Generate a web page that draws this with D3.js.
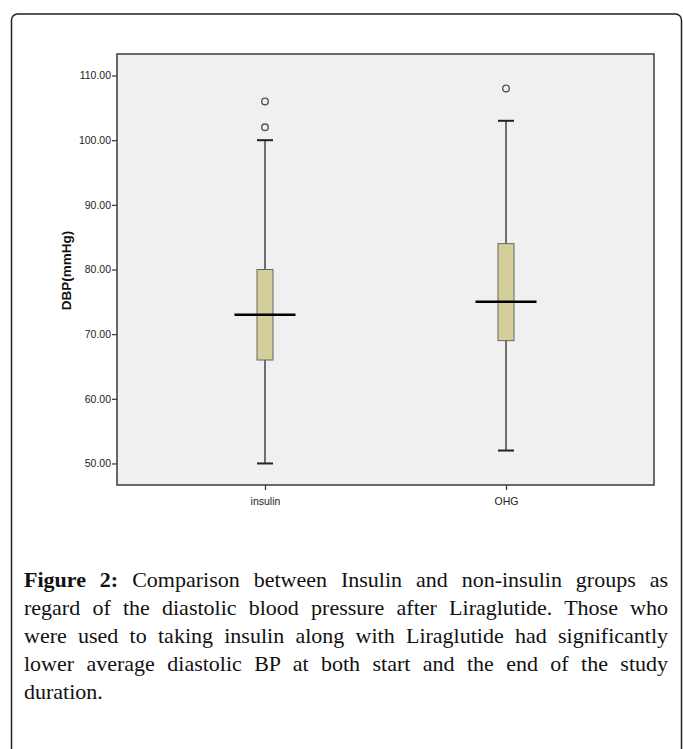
<!DOCTYPE html>
<html>
<head>
<meta charset="utf-8">
<script src="https://cdn.jsdelivr.net/npm/d3@7"></script>
<style>
  html, body { margin: 0; padding: 0; background: #fff; }
  body { width: 683px; height: 749px; position: relative; overflow: hidden; }
  #chart { position: absolute; left: 0; top: 0; }
  #caption { position: absolute; left: 24px; top: 566px; width: 644px;
    font-family: "Liberation Serif", "Times New Roman", serif; font-size: 22px; line-height: 28px; color: #111; }
  #caption .ln { text-align: justify; text-align-last: justify; white-space: nowrap; height: 28px; }
  #caption .ln.last { text-align-last: left; }
</style>
</head>
<body>
<svg id="chart" width="683" height="749"></svg>
<div id="caption"></div>
<script>
// ---- data ----
const categories = ["insulin", "OHG"];
const q1 = [66, 69];
const medians = [73, 75];
const q3 = [80, 84];
const whiskerLow = [50, 52];
const whiskerHigh = [100, 103];
const outliers = [[102, 106], [108]];
const yTicks = [50, 60, 70, 80, 90, 100, 110];
const yLabel = "DBP(mmHg)";
const captionBold = "Figure 2:";
const captionLines = [
  " Comparison between Insulin and non-insulin groups as",
  "regard of the diastolic blood pressure after Liraglutide. Those who",
  "were used to taking insulin along with Liraglutide had significantly",
  "lower average diastolic BP at both start and the end of the study",
  "duration."
];

// ---- layout ----
const svg = d3.select("#chart");
const plot = { left: 117, right: 654, top: 54, bottom: 485 };

// outer frame
svg.append("rect")
  .attr("x", 11.5).attr("y", 14).attr("width", 670).attr("height", 760)
  .attr("rx", 6).attr("ry", 6)
  .attr("fill", "none").attr("stroke", "#222").attr("stroke-width", 1.5);

const y = d3.scaleLinear().domain([46.67, 113.33]).range([plot.bottom, plot.top]);
const x = d3.scalePoint().domain(categories).range([plot.left, plot.right]).padding(0.614);

// plot background
svg.append("rect")
  .attr("x", plot.left).attr("y", plot.top)
  .attr("width", plot.right - plot.left).attr("height", plot.bottom - plot.top)
  .attr("fill", "#f0f0f0").attr("stroke", "#3a3a3a").attr("stroke-width", 1.5);

// y axis
const yAxis = svg.append("g").attr("transform", `translate(${plot.left},0)`)
  .call(d3.axisLeft(y).tickValues(yTicks).tickFormat(d3.format(".2f")).tickSize(5).tickPadding(1));
yAxis.select(".domain").remove();
yAxis.selectAll(".tick line").attr("stroke", "#333").attr("stroke-width", 1.2);
yAxis.selectAll(".tick text").attr("font-family", "Liberation Sans, Arial, sans-serif")
  .attr("font-size", 10.5).attr("fill", "#222");

// x axis
const xAxis = svg.append("g").attr("transform", `translate(0,${plot.bottom})`)
  .call(d3.axisBottom(x).tickSize(5).tickPadding(8));
xAxis.select(".domain").remove();
xAxis.selectAll(".tick line").attr("stroke", "#333").attr("stroke-width", 1.2);
xAxis.selectAll(".tick text").attr("font-family", "Liberation Sans, Arial, sans-serif")
  .attr("font-size", 10.5).attr("fill", "#222");

// y label
svg.append("text")
  .attr("transform", `translate(70.5,${(plot.top + plot.bottom) / 2 + 1}) rotate(-90)`)
  .attr("text-anchor", "middle")
  .attr("font-family", "Liberation Sans, Arial, sans-serif")
  .attr("font-weight", "bold").attr("font-size", 13.5).attr("fill", "#111")
  .text(yLabel);

// boxes
const boxW = 16, medW = 61, capW = 16;
const g = svg.append("g");
categories.forEach((c, i) => {
  const cx = x(c);
  g.append("line").attr("x1", cx).attr("x2", cx).attr("y1", y(q3[i])).attr("y2", y(whiskerHigh[i]))
    .attr("stroke", "#444").attr("stroke-width", 1.5);
  g.append("line").attr("x1", cx).attr("x2", cx).attr("y1", y(q1[i])).attr("y2", y(whiskerLow[i]))
    .attr("stroke", "#444").attr("stroke-width", 1.5);
  [whiskerHigh[i], whiskerLow[i]].forEach(v => {
    g.append("line").attr("x1", cx - capW / 2).attr("x2", cx + capW / 2).attr("y1", y(v)).attr("y2", y(v))
      .attr("stroke", "#222").attr("stroke-width", 2);
  });
  g.append("rect").attr("x", cx - boxW / 2).attr("width", boxW)
    .attr("y", y(q3[i])).attr("height", y(q1[i]) - y(q3[i]))
    .attr("fill", "#d4cf9a").attr("stroke", "#666").attr("stroke-width", 1);
  g.append("line").attr("x1", cx - medW / 2).attr("x2", cx + medW / 2)
    .attr("y1", y(medians[i])).attr("y2", y(medians[i]))
    .attr("stroke", "#000").attr("stroke-width", 2.5);
  outliers[i].forEach(v => {
    g.append("circle").attr("cx", cx).attr("cy", y(v)).attr("r", 3.3)
      .attr("fill", "none").attr("stroke", "#555").attr("stroke-width", 1.4);
  });
});

// caption
const cap = d3.select("#caption");
captionLines.forEach((t, i) => {
  const d = cap.append("div").attr("class", "ln" + (i === captionLines.length - 1 ? " last" : ""));
  if (i === 0) {
    d.append("b").style("font-weight", "bold").text(captionBold);
  }
  d.append("span").text(t);
});
</script>
</body>
</html>
